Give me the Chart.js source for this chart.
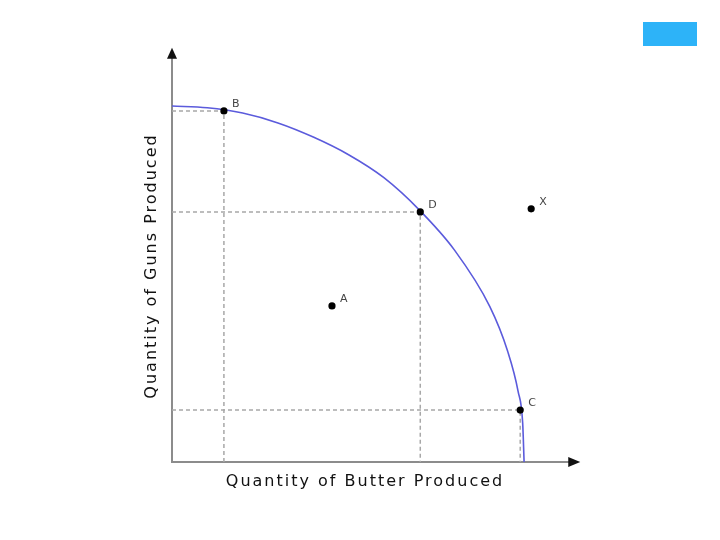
<!DOCTYPE html>
<html>
<head>
<meta charset="utf-8">
<script src="https://cdn.jsdelivr.net/npm/chart.js@4/dist/chart.umd.min.js"></script>
<style>
  html, body { margin: 0; padding: 0; background: #fff; }
  #wrap { position: relative; width: 720px; height: 540px; }
  #tag { position: absolute; left: 643px; top: 22px; width: 54px; height: 24px; background: #2db3f8; }
</style>
</head>
<body>
<div id="wrap">
  <canvas id="ppf" width="720" height="540"></canvas>
  <div id="tag"></div>
</div>
<script>
// frontier (butter on x, guns on y)
const curveX = [0, 1, 2, 3, 4, 5, 6, 7, 8, 9, 9.5, 9.8, 9.93, 9.97];
const curveY = [10.08, 10.03, 9.88, 9.6, 9.2, 8.7, 8.05, 7.14, 6.0, 4.4, 3.15, 2.0, 1.1, 0];

// labelled points
const pointNames = ['B', 'D', 'C', 'A', 'X'];
const pointX = [1.47, 7.03, 9.86, 4.53, 10.17];
const pointY = [9.94, 7.08, 1.47, 4.42, 7.17];

// points that get dashed guide lines to both axes
const guided = ['B', 'D', 'C'];

const xTitle = 'Quantity of Butter Produced';
const yTitle = 'Quantity of Guns Produced';

// where the axis arrows end (data units)
const xAxisEnd = 11.56;
const yAxisEnd = 11.73;

const curveData = curveX.map((x, i) => ({ x: x, y: curveY[i] }));
const pointData = pointX.map((x, i) => ({ x: x, y: pointY[i] }));

const guideSets = guided.map(name => {
    const i = pointNames.indexOf(name);
    return {
        type: 'line',
        data: [{ x: 0, y: pointY[i] }, { x: pointX[i], y: pointY[i] }, { x: pointX[i], y: 0 }],
        borderColor: '#a8a8a8',
        borderWidth: 1.5,
        borderDash: [4, 3],
        pointRadius: 0,
        showLine: true,
        tension: 0,
        order: 3
    };
});

// axes with arrowheads + point letters
const axesPlugin = {
    id: 'axesPlugin',
    beforeDraw(chart) {
        chart.ctx.letterSpacing = '2px';
    },
    beforeDatasetsDraw(chart) {
        const ctx = chart.ctx;
        const xs = chart.scales.x, ys = chart.scales.y;
        const x0 = xs.getPixelForValue(0), y0 = ys.getPixelForValue(0);
        const xe = xs.getPixelForValue(xAxisEnd), ye = ys.getPixelForValue(yAxisEnd);
        ctx.save();
        ctx.strokeStyle = '#8c8c8c';
        ctx.lineWidth = 2;
        ctx.beginPath();
        ctx.moveTo(x0, ye + 8);
        ctx.lineTo(x0, y0);
        ctx.lineTo(xe - 8, y0);
        ctx.stroke();
        ctx.fillStyle = '#111';
        ctx.beginPath();
        ctx.moveTo(x0, ye);
        ctx.lineTo(x0 - 5, ye + 11);
        ctx.lineTo(x0 + 5, ye + 11);
        ctx.closePath();
        ctx.fill();
        ctx.beginPath();
        ctx.moveTo(xe, y0);
        ctx.lineTo(xe - 12, y0 - 5);
        ctx.lineTo(xe - 12, y0 + 5);
        ctx.closePath();
        ctx.fill();
        ctx.restore();
    },
    afterDatasetsDraw(chart) {
        const ctx = chart.ctx;
        const meta = chart.getDatasetMeta(1);
        ctx.save();
        ctx.letterSpacing = '0px';
        ctx.font = '11px "DejaVu Sans"';
        ctx.fillStyle = '#444';
        ctx.textAlign = 'left';
        ctx.textBaseline = 'middle';
        meta.data.forEach((pt, i) => {
            ctx.fillText(pointNames[i], pt.x + 8, pt.y - 7);
        });
        ctx.restore();
    }
};

new Chart(document.getElementById('ppf'), {
    type: 'scatter',
    data: {
        datasets: [
            {
                type: 'line',
                data: curveData,
                borderColor: '#5b5bdc',
                borderWidth: 1.6,
                pointRadius: 0,
                cubicInterpolationMode: 'monotone',
                order: 2
            },
            {
                data: pointData,
                backgroundColor: '#000',
                borderColor: '#000',
                pointRadius: 3.6,
                borderWidth: 0,
                order: 1
            },
            ...guideSets
        ]
    },
    options: {
        responsive: false,
        animation: false,
        events: [],
        clip: false,
        layout: { padding: { left: 132, right: 162, top: 70, bottom: 38 } },
        plugins: {
            legend: { display: false },
            tooltip: { enabled: false }
        },
        scales: {
            x: {
                type: 'linear',
                min: 0,
                max: 10.93,
                grid: { display: false },
                border: { display: false },
                ticks: { display: false },
                title: {
                    display: true,
                    text: xTitle,
                    color: '#111',
                    font: { family: 'DejaVu Sans', size: 16 },
                    padding: { top: 0, bottom: 11 }
                },
                afterFit(scale) { scale.height = 40; }
            },
            y: {
                type: 'linear',
                min: 0,
                max: 11.1,
                grid: { display: false },
                border: { display: false },
                ticks: { display: false },
                title: {
                    display: true,
                    text: yTitle,
                    color: '#111',
                    font: { family: 'DejaVu Sans', size: 16 },
                    padding: { top: 10, bottom: 0 }
                },
                afterFit(scale) { scale.width = 40; }
            }
        }
    },
    plugins: [axesPlugin]
});
</script>
</body>
</html>
